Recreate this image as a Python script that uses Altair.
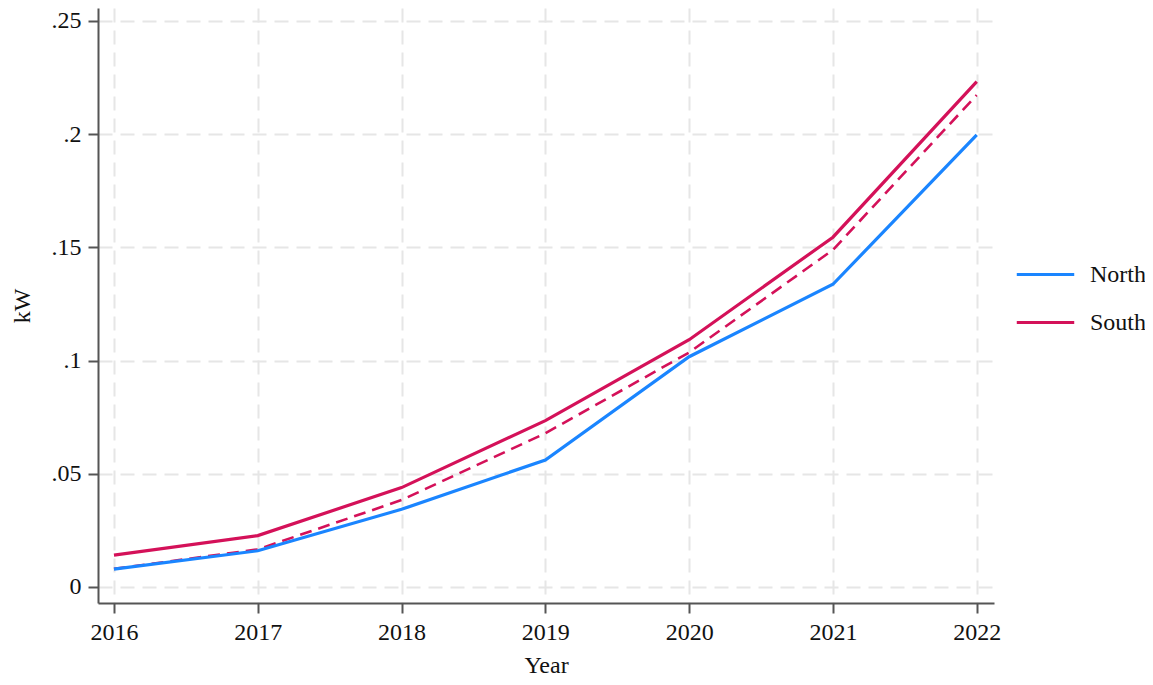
import altair as alt
import pandas as pd

years = [2016, 2017, 2018, 2019, 2020, 2021, 2022]
north = [0.0079, 0.0160, 0.0343, 0.0561, 0.1017, 0.1337, 0.1997]
south = [0.0141, 0.0227, 0.0439, 0.0735, 0.1092, 0.1545, 0.2232]
dashed = [0.0080, 0.0166, 0.0384, 0.0679, 0.1036, 0.1489, 0.2173]
y_ticks = [0, 0.05, 0.1, 0.15, 0.2, 0.25]

BLUE = "#1A85FF"
RED = "#D41159"
FONT = "Liberation Serif"

rows = []
for yr, n, s in zip(years, north, south):
    rows.append({"Year": yr, "kW": n, "Region": "North"})
    rows.append({"Year": yr, "kW": s, "Region": "South"})
df = pd.DataFrame(rows)
df_dash = pd.DataFrame({"Year": years, "kW": dashed})

xscale = alt.Scale(domain=[2015.889, 2022.12], nice=False, zero=False)
yscale = alt.Scale(domain=[-0.00707, 0.25574], nice=False, zero=False)

xaxis = alt.Axis(
    title="Year", values=years, format="d",
    grid=True, gridColor="#e6e6e6", gridDash=[14, 8], gridWidth=2,
    domainColor="#555555", domainWidth=2,
    tickColor="#555555", tickWidth=2, tickSize=10,
    labelFont=FONT, labelFontSize=24, labelColor="#111111", labelPadding=7,
    titleFont=FONT, titleFontSize=24, titleFontWeight="normal", titleColor="#111111",
    titlePadding=9, labelFlush=False,
)
yaxis = alt.Axis(
    title="kW", values=y_ticks,
    labelExpr="datum.value == 0 ? '0' : replace(format(datum.value, '.2~f'), '0.', '.')",
    grid=True, gridColor="#e6e6e6", gridDash=[14, 8], gridWidth=2,
    domainColor="#555555", domainWidth=2,
    tickColor="#555555", tickWidth=2, tickSize=10,
    labelFont=FONT, labelFontSize=24, labelColor="#111111", labelPadding=7,
    titleFont=FONT, titleFontSize=24, titleFontWeight="normal", titleColor="#111111",
    titlePadding=17, labelFlush=False,
)

solid = alt.Chart(df).mark_line(strokeWidth=3.2).encode(
    x=alt.X("Year:Q", scale=xscale, axis=xaxis),
    y=alt.Y("kW:Q", scale=yscale, axis=yaxis),
    color=alt.Color(
        "Region:N",
        scale=alt.Scale(domain=["North", "South"], range=[BLUE, RED]),
        legend=alt.Legend(
            title=None, orient="none", legendX=917, legendY=236,
            symbolType="stroke", symbolStrokeWidth=3.2, symbolSize=3300,
            labelFont=FONT, labelFontSize=24, labelColor="#111111",
            rowPadding=5, labelOffset=14,
        ),
    ),
)

dash_line = alt.Chart(df_dash).mark_line(strokeWidth=2.6, strokeDash=[12, 7]).encode(
    x=alt.X("Year:Q", scale=xscale),
    y=alt.Y("kW:Q", scale=yscale),
    color=alt.value(RED),
)

chart = alt.layer(dash_line, solid).properties(
    width=896, height=595,
    background="white",
    autosize=alt.AutoSizeParams(type="none"),
    padding={"left": 90, "top": 0, "right": 151, "bottom": 74},
).configure_view(strokeWidth=0, stroke="transparent")

chart.save("out.html", embed_options={"renderer": "svg", "actions": False})
